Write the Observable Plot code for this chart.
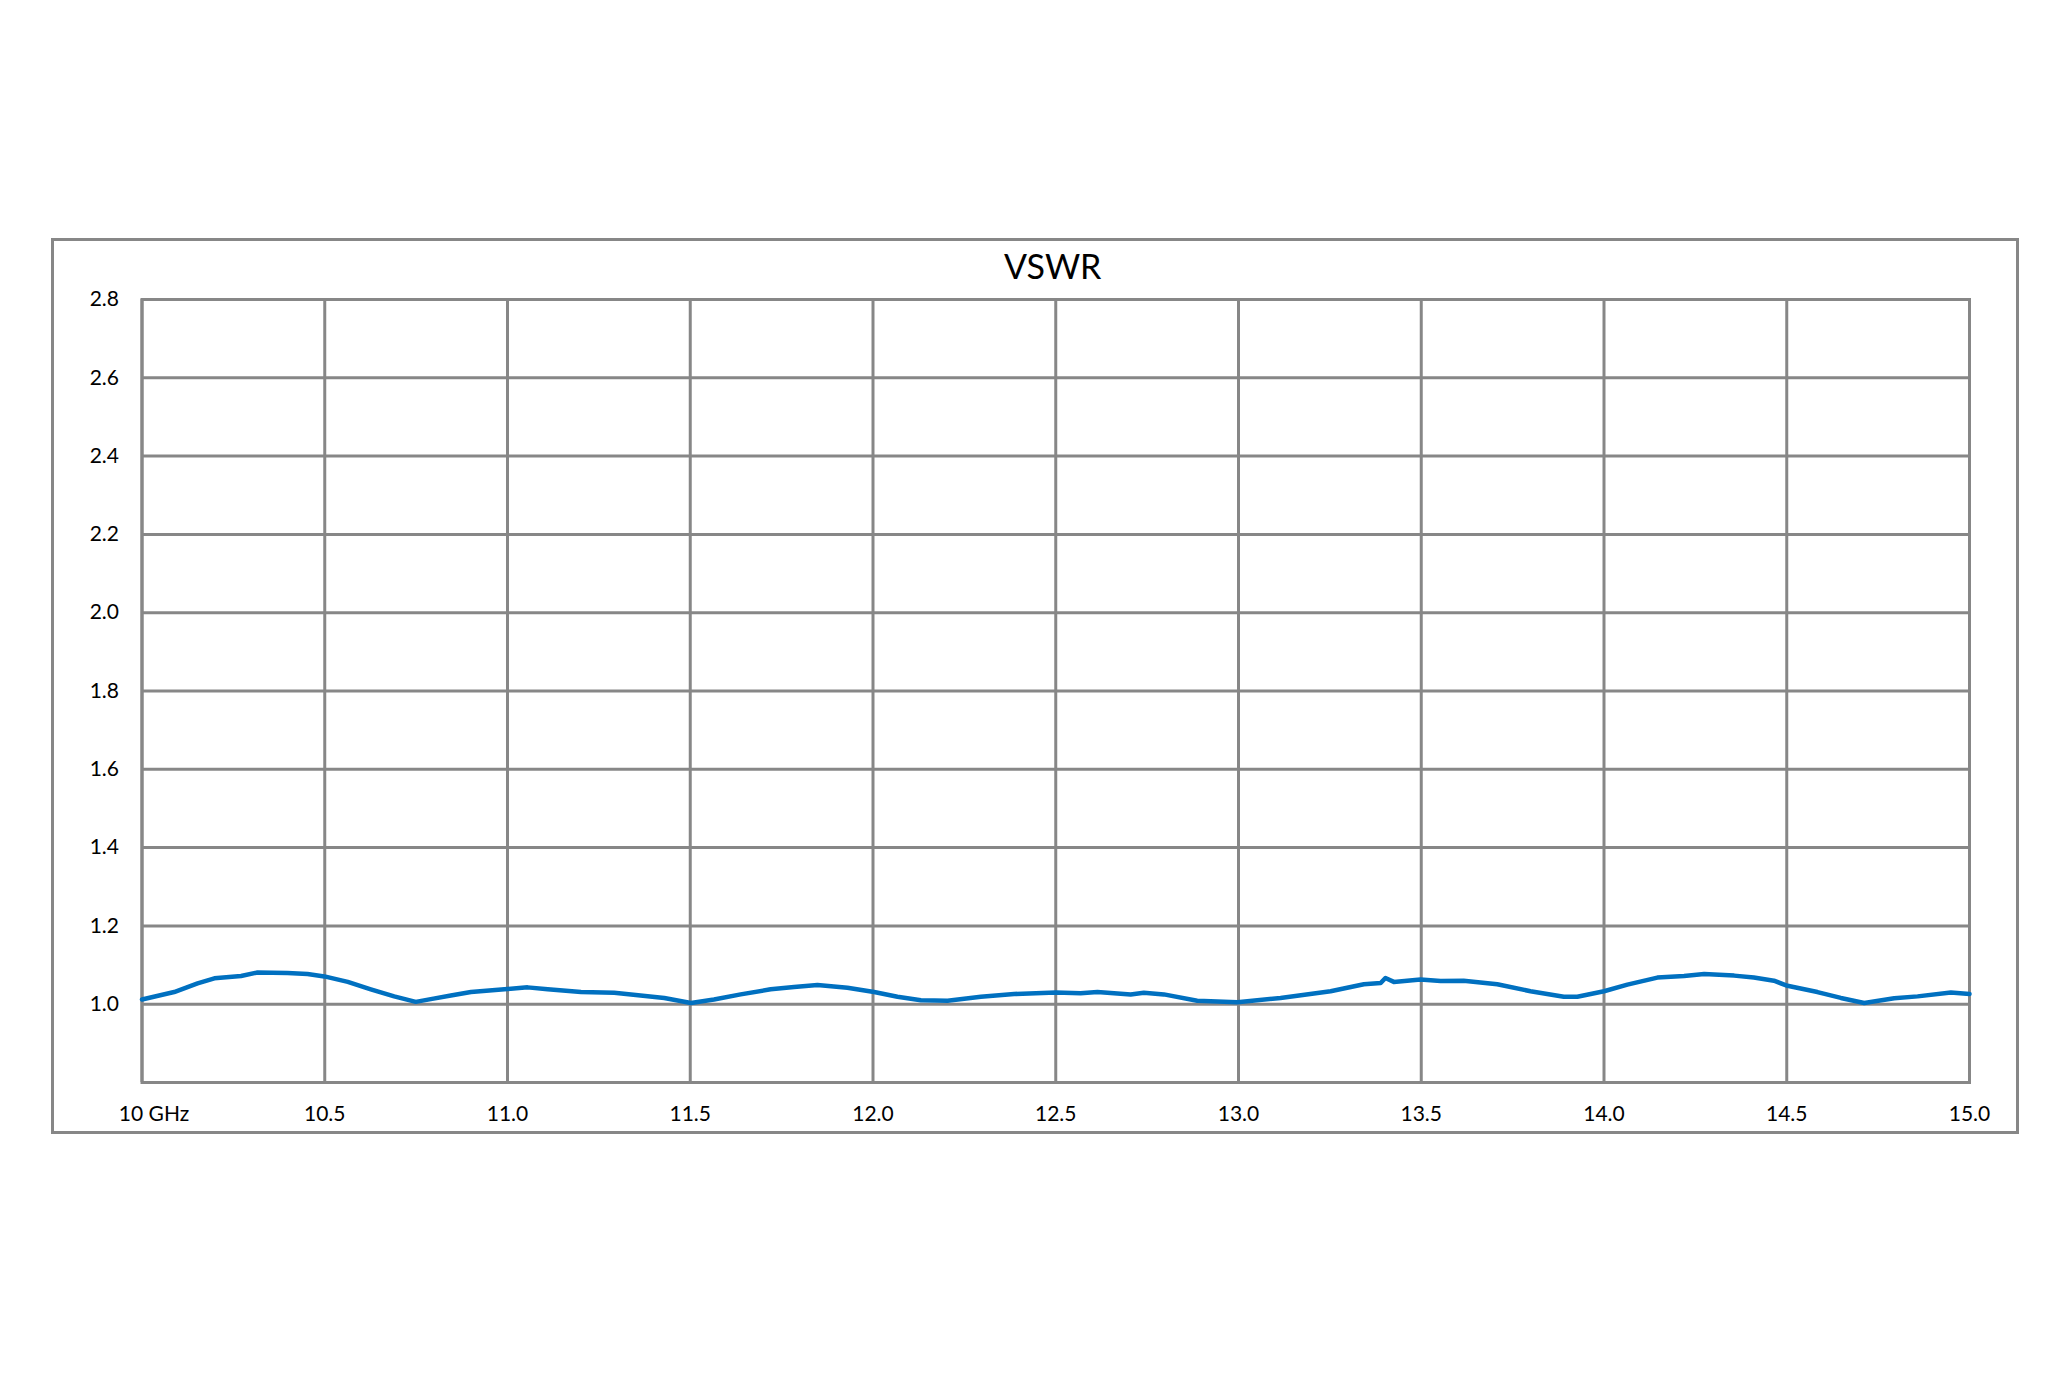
<!DOCTYPE html>
<html>
<head>
<meta charset="utf-8">
<script src="https://cdn.jsdelivr.net/npm/d3@7"></script>
<script src="https://cdn.jsdelivr.net/npm/@observablehq/plot@0.6"></script>
<style>
  html, body { margin: 0; padding: 0; background: #fff; }
  #wrap { position: relative; width: 2065px; height: 1377px; }
  #box { position: absolute; left: 51px; top: 238px; width: 1968px; height: 896px;
         border: 3px solid #878787; box-sizing: border-box; pointer-events: none; }
</style>
</head>
<body>
<div id="wrap"><div id="box"></div></div>
<script>
// Frequency (GHz) and VSWR values
const freq = [10.0, 10.088, 10.152, 10.198, 10.271, 10.316, 10.398, 10.453, 10.499, 10.563, 10.626, 10.690, 10.749, 10.790, 10.845, 10.900, 11.0, 11.055, 11.110, 11.201, 11.292, 11.338, 11.429, 11.502, 11.565, 11.638, 11.720, 11.784, 11.848, 11.930, 12.003, 12.067, 12.131, 12.204, 12.295, 12.386, 12.500, 12.568, 12.614, 12.705, 12.741, 12.796, 12.887, 12.997, 13.115, 13.252, 13.343, 13.389, 13.402, 13.425, 13.498, 13.553, 13.616, 13.708, 13.799, 13.890, 13.927, 14.000, 14.064, 14.146, 14.219, 14.274, 14.356, 14.410, 14.465, 14.502, 14.584, 14.648, 14.712, 14.794, 14.858, 14.949, 15.0];
const vswr = [1.012, 1.031, 1.053, 1.066, 1.072, 1.081, 1.080, 1.077, 1.071, 1.057, 1.038, 1.020, 1.006, 1.013, 1.022, 1.031, 1.039, 1.043, 1.038, 1.031, 1.029, 1.025, 1.016, 1.003, 1.012, 1.025, 1.038, 1.044, 1.049, 1.042, 1.031, 1.019, 1.010, 1.009, 1.019, 1.026, 1.030, 1.028, 1.031, 1.025, 1.029, 1.025, 1.009, 1.005, 1.016, 1.033, 1.051, 1.054, 1.067, 1.057, 1.063, 1.059, 1.060, 1.051, 1.033, 1.019, 1.019, 1.033, 1.050, 1.068, 1.072, 1.077, 1.073, 1.068, 1.060, 1.047, 1.031, 1.016, 1.003, 1.015, 1.020, 1.030, 1.026];
const xTicks = [10, 10.5, 11, 11.5, 12, 12.5, 13, 13.5, 14, 14.5, 15];
const yTicks = [1.0, 1.2, 1.4, 1.6, 1.8, 2.0, 2.2, 2.4, 2.6, 2.8];
const gridY = [0.8, 1.0, 1.2, 1.4, 1.6, 1.8, 2.0, 2.2, 2.4, 2.6, 2.8];
const title = "VSWR";
const firstLabel = "10 GHz";

const data = freq.map((f, i) => ({f, v: vswr[i]}));
const grey = "#878787";

const chart = Plot.plot({
  width: 2065,
  height: 1377,
  marginLeft: 141.5,
  marginRight: 96,
  marginTop: 299,
  marginBottom: 295,
  style: {background: "transparent", fontFamily: "Lato, 'Open Sans', sans-serif", color: "#000"},
  x: {domain: [10, 15], label: null},
  y: {domain: [0.8, 2.8], label: null},
  marks: [
    Plot.gridX(xTicks, {stroke: grey, strokeOpacity: 1, strokeWidth: 3}),
    Plot.gridY(gridY, {stroke: grey, strokeOpacity: 1, strokeWidth: 3}),
    Plot.frame({stroke: grey, strokeWidth: 3}),
    Plot.axisY(yTicks, {tickSize: 0, tickPadding: 23, fontSize: 21, tickFormat: d => d.toFixed(1), fill: "#000", label: null}),
    Plot.axisX([xTicks[0]], {tickSize: 0, tickPadding: 24, fontSize: 21, tickFormat: () => firstLabel, dx: 12, fill: "#000", label: null}),
    Plot.axisX(xTicks.slice(1), {tickSize: 0, tickPadding: 24, fontSize: 21, tickFormat: d => d.toFixed(1), fill: "#000", label: null}),
    Plot.text([title], {frameAnchor: "top", lineAnchor: "middle", dy: -31, fontSize: 34, fill: "#000", dx: -3}),
    Plot.line(data, {x: "f", y: "v", stroke: "#0070C0", strokeWidth: 4.5, strokeLinejoin: "round"})
  ]
});
chart.style.position = "absolute";
chart.style.left = "0px";
chart.style.top = "0px";
document.getElementById("wrap").prepend(chart);
</script>
</body>
</html>
